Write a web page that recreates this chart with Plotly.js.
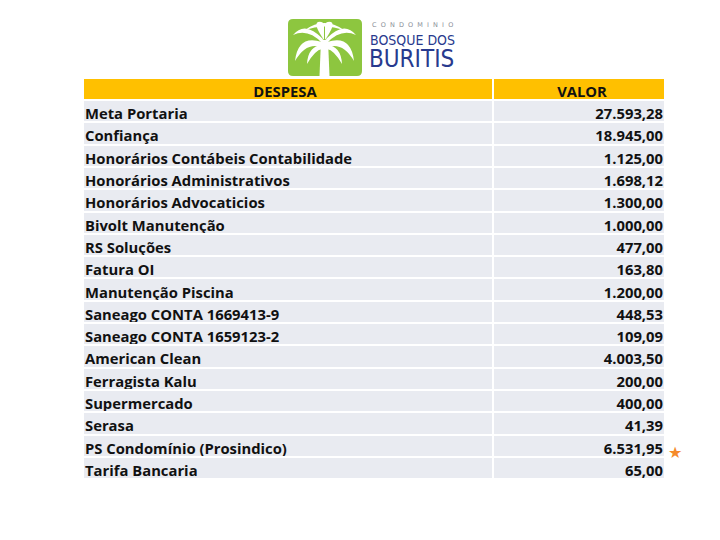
<!DOCTYPE html>
<html>
<head>
<meta charset="utf-8">
<script src="https://cdn.plot.ly/plotly-3.0.1.min.js"></script>
<style>html,body{margin:0;padding:0;background:#fff;}#chart{width:720px;height:540px;}</style>
</head>
<body>
<div id="chart"></div>
<script>
// ---- data ----
const headers = ["DESPESA", "VALOR"];
const despesas = [
  "Meta Portaria",
  "Confiança",
  "Honorários Contábeis Contabilidade",
  "Honorários Administrativos",
  "Honorários Advocaticios",
  "Bivolt Manutenção",
  "RS Soluções",
  "Fatura OI",
  "Manutenção Piscina",
  "Saneago CONTA 1669413-9",
  "Saneago CONTA 1659123-2",
  "American Clean",
  "Ferragista Kalu",
  "Supermercado",
  "Serasa",
  "PS Condomínio (Prosindico)",
  "Tarifa Bancaria"
];
const valores = [27593.28, 18945.00, 1125.00, 1698.12, 1300.00, 1000.00, 477.00, 163.80,
  1200.00, 448.53, 109.09, 4003.50, 200.00, 400.00, 41.39, 6531.95, 65.00];
const logoLines = ["CONDOMINIO", "BOSQUE DOS", "BURITIS"];

// ---- helpers ----
const W = 720, H = 540;
function fmtBR(v) {
  const parts = v.toFixed(2).split('.');
  const i = parts[0].replace(/\B(?=(\d{3})+(?!\d))/g, '.');
  return i + ',' + parts[1];
}
function px(x) { return x / W; }
function py(y) { return 1 - y / H; }
function pathPx(cmds) {
  return cmds.map(c => {
    const L = c[0];
    if (L === 'Z') return 'Z';
    const pts = [];
    for (let k = 1; k < c.length; k += 2) pts.push(px(c[k]).toFixed(5) + ',' + py(c[k + 1]).toFixed(5));
    return L + pts.join(' ');
  }).join(' ');
}
function mirror(cmds, cx) {
  return cmds.map(c => {
    if (c[0] === 'Z') return c;
    const n = [c[0]];
    for (let k = 1; k < c.length; k += 2) { n.push(2 * cx - c[k]); n.push(c[k + 1]); }
    return n;
  });
}
function rectPx(x0, y0, x1, y1, color) {
  return { type: 'rect', xref: 'paper', yref: 'paper', layer: 'above',
    x0: px(x0), x1: px(x1), y0: py(y1), y1: py(y0), fillcolor: color, line: { width: 0 } };
}

// ---- table ----
// the table is widened by the library's built-in cell padding; white strips mask the extra fill
const PAD = 7;
const cellFont = { family: '"Open Sans", Lato, sans-serif', size: 14.8, color: '#111111', weight: 'bold' };
const table = {
  type: 'table',
  domain: { x: [px(84 - PAD), px(664 + PAD)], y: [py(480), py(78)] },
  columnwidth: [409 + PAD, 171 + PAD],
  header: {
    values: headers,
    align: ['center', 'center'],
    height: 22,
    fill: { color: '#ffc000' },
    line: { color: '#ffffff', width: 2 },
    font: cellFont
  },
  cells: {
    values: [despesas, valores.map(fmtBR)],
    align: ['left', 'right'],
    height: 22.3,
    fill: { color: '#e9ebf1' },
    line: { color: '#ffffff', width: 2 },
    font: cellFont
  }
};

// ---- logo shapes ----
const green = '#8dc63f';
const shapes = [];
shapes.push(rectPx(84 - PAD - 2, 70, 84, 500, '#ffffff'));
shapes.push(rectPx(664, 70, 664 + PAD + 2, 500, '#ffffff'));
(function () {
  const x0 = 288, x1 = 362, y0 = 19, y1 = 76, r = 5;
  shapes.push({
    type: 'path', xref: 'paper', yref: 'paper', layer: 'above',
    path: pathPx([['M', x0 + r, y0], ['L', x1 - r, y0], ['Q', x1, y0, x1, y0 + r], ['L', x1, y1 - r],
      ['Q', x1, y1, x1 - r, y1], ['L', x0 + r, y1], ['Q', x0, y1, x0, y1 - r], ['L', x0, y0 + r],
      ['Q', x0, y0, x0 + r, y0], ['Z']]),
    fillcolor: green, line: { width: 0 }
  });
})();
const cx = 324.5;
const leftFronds = [
  [['M', 323, 39], ['Q', 305, 20, 293, 35], ['Q', 308, 28, 322, 43], ['Z']],
  [['M', 322, 42], ['Q', 298, 34, 295, 61], ['Q', 306, 42, 321, 47], ['Z']],
  [['M', 322, 45], ['Q', 308, 46, 307, 64], ['Q', 315, 50, 322, 49], ['Z']],
  [['M', 324, 40], ['Q', 313, 24, 318, 22], ['Q', 322, 21, 324, 24], ['Z']]
];
const fronds = leftFronds.concat(leftFronds.map(f => mirror(f, cx)));
fronds.forEach(f => shapes.push({
  type: 'path', xref: 'paper', yref: 'paper', layer: 'above',
  path: pathPx(f), fillcolor: '#ffffff', line: { width: 0 }
}));
shapes.push({
  type: 'path', xref: 'paper', yref: 'paper', layer: 'above',
  path: pathPx([['M', 305, 30], ['Q', 324, 16, 344, 30], ['Q', 324, 23, 305, 30], ['Z']]),
  fillcolor: '#ffffff', line: { width: 0 }
});
shapes.push({
  type: 'path', xref: 'paper', yref: 'paper', layer: 'above',
  path: pathPx([['M', 321, 40], ['L', 328, 40], ['L', 329.5, 76], ['L', 319.5, 76], ['Z']]),
  fillcolor: '#ffffff', line: { width: 0 }
});

const navy = '#283a8e';
const spaced = logoLines[0].split('').join('\u00a0\u00a0');
const condensed = '"DejaVu Sans Condensed", "Liberation Sans Narrow", "DejaVu Sans", sans-serif';
const annotations = [
  { x: px(370), y: py(25), xref: 'paper', yref: 'paper', xanchor: 'left', yanchor: 'middle', showarrow: false,
    text: spaced, font: { family: 'DejaVu Sans, sans-serif', size: 6.5, color: '#8a8f99' } },
  { x: px(368), y: py(39.5), xref: 'paper', yref: 'paper', xanchor: 'left', yanchor: 'middle', showarrow: false,
    text: logoLines[1], font: { family: condensed, size: 14, color: navy } },
  { x: px(367), y: py(59.5), xref: 'paper', yref: 'paper', xanchor: 'left', yanchor: 'middle', showarrow: false,
    text: logoLines[2], font: { family: condensed, size: 24, color: navy } },
  { x: px(675), y: py(452), xref: 'paper', yref: 'paper', xanchor: 'center', yanchor: 'middle', showarrow: false,
    text: '★', font: { family: 'DejaVu Sans, sans-serif', size: 16, color: '#f58a2a' } }
];

const layout = {
  width: W, height: H,
  margin: { l: 0, r: 0, t: 0, b: 0 },
  paper_bgcolor: '#ffffff',
  shapes: shapes,
  annotations: annotations,
  showlegend: false
};
Plotly.newPlot('chart', [table], layout, { displayModeBar: false, staticPlot: true });
</script>
</body>
</html>
